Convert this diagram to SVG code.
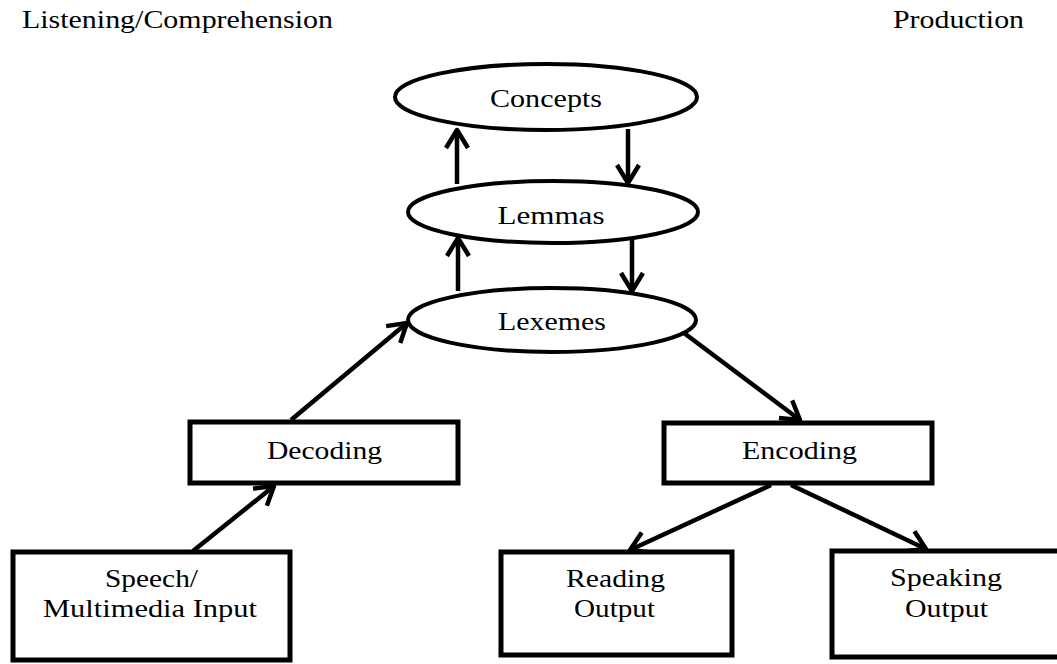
<svg xmlns="http://www.w3.org/2000/svg" width="1057" height="664" viewBox="0 0 1057 664">
  <style>
    .t { font-family: "Liberation Serif", "Times New Roman", serif; font-size: 26px; fill: #000; }
    .box { fill: #fff; stroke: #000; stroke-width: 5; }
    .ell { fill: #fff; stroke: #000; stroke-width: 4; }
    .c { fill: none; stroke: #000; stroke-width: 4.5; marker-end: url(#ah); }
  </style>
  <defs>
    <marker id="ah" markerUnits="userSpaceOnUse" markerWidth="30" markerHeight="30" refX="0" refY="0" viewBox="-22 -15 26 30" orient="auto">
      <path d="M-18,-11 L0,0 L-18,11" fill="none" stroke="#000" stroke-width="4.5" stroke-linejoin="round"/>
    </marker>
  </defs>
  <rect width="1057" height="664" fill="#fff"/>

  <g id="label-listening">
    <text class="t" x="22" y="28" textLength="311" lengthAdjust="spacingAndGlyphs">Listening/Comprehension</text>
  </g>
  <g id="label-production">
    <text class="t" x="893" y="28" textLength="131" lengthAdjust="spacingAndGlyphs">Production</text>
  </g>

  <g id="connectors">
    <line class="c" x1="457" y1="184" x2="457" y2="130"/>
    <line class="c" x1="628" y1="129" x2="628" y2="183"/>
    <line class="c" x1="458" y1="291" x2="458" y2="238"/>
    <line class="c" x1="632" y1="237" x2="632" y2="291"/>
    <line class="c" x1="193" y1="551" x2="274" y2="486"/>
    <line class="c" x1="291" y1="420" x2="407" y2="323"/>
    <line class="c" x1="684" y1="333" x2="800" y2="420"/>
    <line class="c" x1="771" y1="485" x2="630" y2="550"/>
    <line class="c" x1="791" y1="485" x2="926" y2="549"/>
  </g>

  <g id="concepts">
    <ellipse class="ell" cx="546" cy="97" rx="151" ry="33"/>
    <text class="t" x="546" y="107" text-anchor="middle" textLength="112" lengthAdjust="spacingAndGlyphs">Concepts</text>
  </g>
  <g id="lemmas">
    <ellipse class="ell" cx="553" cy="212" rx="145" ry="31"/>
    <text class="t" x="551" y="224" text-anchor="middle" textLength="107" lengthAdjust="spacingAndGlyphs">Lemmas</text>
  </g>
  <g id="lexemes">
    <ellipse class="ell" cx="552" cy="320" rx="144" ry="32"/>
    <text class="t" x="552" y="330" text-anchor="middle" textLength="108" lengthAdjust="spacingAndGlyphs">Lexemes</text>
  </g>

  <g id="decoding">
    <rect class="box" x="190" y="422" width="268" height="61"/>
    <text class="t" x="324.5" y="459" text-anchor="middle" textLength="115" lengthAdjust="spacingAndGlyphs">Decoding</text>
  </g>
  <g id="encoding">
    <rect class="box" x="664" y="423" width="268" height="60"/>
    <text class="t" x="799.5" y="459" text-anchor="middle" textLength="115" lengthAdjust="spacingAndGlyphs">Encoding</text>
  </g>

  <g id="speech-input">
    <rect class="box" x="13" y="552" width="277" height="108"/>
    <text class="t" x="151.5" y="587" text-anchor="middle" textLength="93" lengthAdjust="spacingAndGlyphs">Speech/</text>
    <text class="t" x="150" y="617" text-anchor="middle" textLength="214" lengthAdjust="spacingAndGlyphs">Multimedia Input</text>
  </g>
  <g id="reading-output">
    <rect class="box" x="501" y="552" width="231" height="103"/>
    <text class="t" x="615.5" y="587" text-anchor="middle" textLength="99" lengthAdjust="spacingAndGlyphs">Reading</text>
    <text class="t" x="614.5" y="617" text-anchor="middle" textLength="81" lengthAdjust="spacingAndGlyphs">Output</text>
  </g>
  <g id="speaking-output">
    <rect class="box" x="832" y="551" width="232" height="106"/>
    <text class="t" x="946" y="586" text-anchor="middle" textLength="112" lengthAdjust="spacingAndGlyphs">Speaking</text>
    <text class="t" x="946.5" y="617" text-anchor="middle" textLength="83" lengthAdjust="spacingAndGlyphs">Output</text>
  </g>
</svg>
